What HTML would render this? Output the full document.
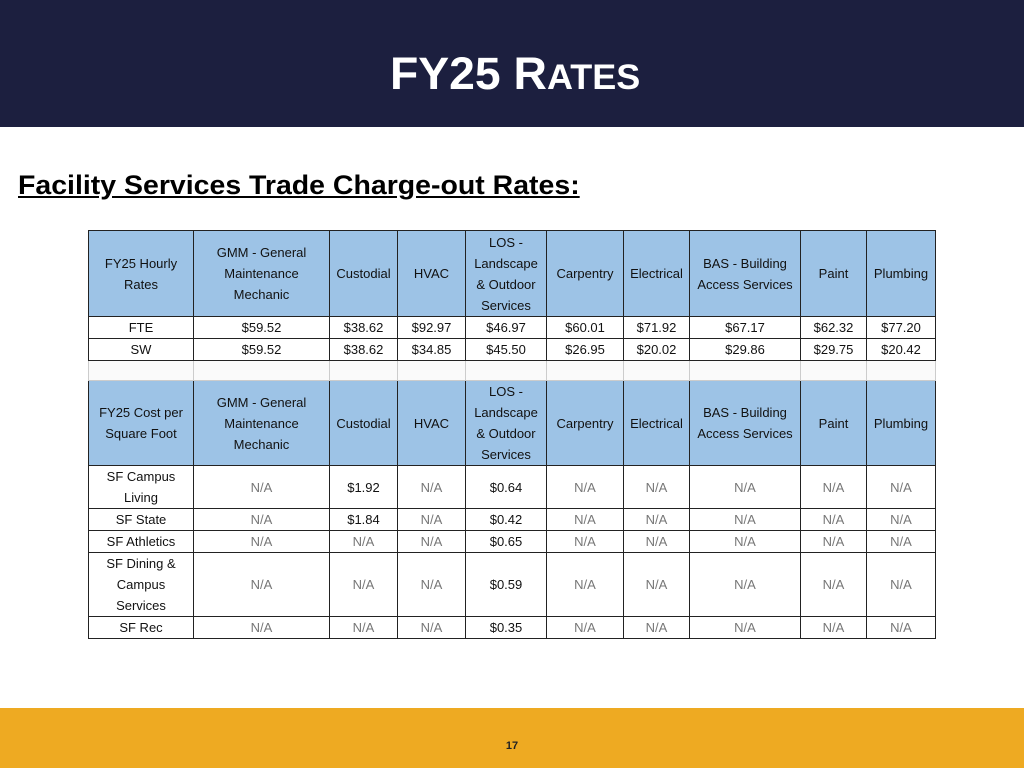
<!DOCTYPE html>
<html><head><meta charset="utf-8"><style>
body{margin:0;width:1024px;height:768px;position:relative;background:#fff;overflow:hidden;font-family:"Liberation Sans",sans-serif}
#hdr{position:absolute;left:0;top:0;width:1024px;height:127px;background:#1c1f3f}
#title{position:absolute;left:390px;top:51px;color:#fff;font-weight:bold;font-size:45px;line-height:46px;white-space:nowrap;transform-origin:0 0}
#title .sc{font-size:35px}
#sub{position:absolute;left:18px;top:171px;font-weight:bold;font-size:27px;line-height:29px;text-decoration:underline;color:#000;white-space:nowrap;transform-origin:0 0}
table{position:absolute;left:88px;top:230px;border-collapse:collapse;table-layout:fixed;font-size:13px;color:#111}
td{border:1.5px solid #222;text-align:center;padding:0;line-height:21px;overflow:hidden;white-space:nowrap}
.h td{background:#9dc3e6}
.gap td{border-color:#ccc;border-left:1px solid #ccc;border-right:1px solid #ccc;background:#fafafa}
.na{color:#777}
#foot{position:absolute;left:0;top:708px;width:1024px;height:60px;background:#eeaa22}
#pg{position:absolute;left:0;top:740px;width:1024px;text-align:center;font-size:11px;font-weight:bold;color:#222}
</style></head><body>
<div id="hdr"></div>
<div id="title">FY25 R<span class="sc">ATES</span></div>
<div id="sub">Facility Services Trade Charge-out Rates:</div>
<table>
<colgroup><col style="width:105px"><col style="width:136px"><col style="width:68px"><col style="width:68px"><col style="width:81px"><col style="width:77px"><col style="width:66px"><col style="width:111px"><col style="width:66px"><col style="width:69px"></colgroup>
<tr class="h" style="height:86px"><td>FY25 Hourly<br>Rates</td><td>GMM - General<br>Maintenance<br>Mechanic</td><td>Custodial</td><td>HVAC</td><td>LOS -<br>Landscape<br>&amp; Outdoor<br>Services</td><td>Carpentry</td><td>Electrical</td><td>BAS - Building<br>Access Services</td><td>Paint</td><td>Plumbing</td></tr>
<tr style="height:21px"><td>FTE</td><td>$59.52</td><td>$38.62</td><td>$92.97</td><td>$46.97</td><td>$60.01</td><td>$71.92</td><td>$67.17</td><td>$62.32</td><td>$77.20</td></tr>
<tr style="height:21px"><td>SW</td><td>$59.52</td><td>$38.62</td><td>$34.85</td><td>$45.50</td><td>$26.95</td><td>$20.02</td><td>$29.86</td><td>$29.75</td><td>$20.42</td></tr>
<tr class="gap" style="height:20px"><td></td><td></td><td></td><td></td><td></td><td></td><td></td><td></td><td></td><td></td></tr>
<tr class="h" style="height:85px"><td>FY25 Cost per<br>Square Foot</td><td>GMM - General<br>Maintenance<br>Mechanic</td><td>Custodial</td><td>HVAC</td><td>LOS -<br>Landscape<br>&amp; Outdoor<br>Services</td><td>Carpentry</td><td>Electrical</td><td>BAS - Building<br>Access Services</td><td>Paint</td><td>Plumbing</td></tr>
<tr style="height:43px"><td>SF Campus<br>Living</td><td class="na">N/A</td><td>$1.92</td><td class="na">N/A</td><td>$0.64</td><td class="na">N/A</td><td class="na">N/A</td><td class="na">N/A</td><td class="na">N/A</td><td class="na">N/A</td></tr>
<tr style="height:21px"><td>SF State</td><td class="na">N/A</td><td>$1.84</td><td class="na">N/A</td><td>$0.42</td><td class="na">N/A</td><td class="na">N/A</td><td class="na">N/A</td><td class="na">N/A</td><td class="na">N/A</td></tr>
<tr style="height:21px"><td>SF Athletics</td><td class="na">N/A</td><td class="na">N/A</td><td class="na">N/A</td><td>$0.65</td><td class="na">N/A</td><td class="na">N/A</td><td class="na">N/A</td><td class="na">N/A</td><td class="na">N/A</td></tr>
<tr style="height:64px"><td>SF Dining &amp;<br>Campus<br>Services</td><td class="na">N/A</td><td class="na">N/A</td><td class="na">N/A</td><td>$0.59</td><td class="na">N/A</td><td class="na">N/A</td><td class="na">N/A</td><td class="na">N/A</td><td class="na">N/A</td></tr>
<tr style="height:21px"><td>SF Rec</td><td class="na">N/A</td><td class="na">N/A</td><td class="na">N/A</td><td>$0.35</td><td class="na">N/A</td><td class="na">N/A</td><td class="na">N/A</td><td class="na">N/A</td><td class="na">N/A</td></tr>
</table>
<div id="foot"></div>
<div id="pg">17</div>
<script>
function fit(id,w){var e=document.getElementById(id);var s=w/e.offsetWidth;e.style.transform='scaleX('+s+')';}
fit('title',250);
fit('sub',562);
</script>
</body></html>
